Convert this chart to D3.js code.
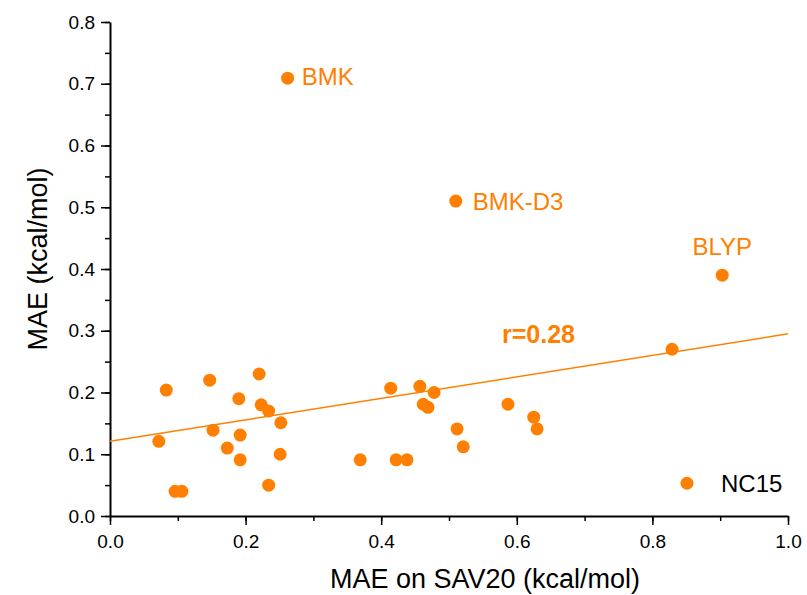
<!DOCTYPE html>
<html>
<head>
<meta charset="utf-8">
<script src="https://cdn.jsdelivr.net/npm/d3@7"></script>
<style>
  body { margin: 0; background: #fff; }
  text { font-family: "Liberation Sans", Arial, sans-serif; }
</style>
</head>
<body>
<div id="chart"></div>
<script>
// MAE on SAV20 (x) vs MAE (y), one point per method
var sav20 = [0.072, 0.083, 0.096, 0.106, 0.147, 0.152, 0.173, 0.190, 0.192, 0.192,
             0.220, 0.223, 0.234, 0.234, 0.252, 0.251, 0.262, 0.369, 0.414, 0.422,
             0.438, 0.457, 0.462, 0.469, 0.478, 0.510, 0.512, 0.521, 0.587, 0.625,
             0.630, 0.829, 0.851, 0.903];
var mae   = [0.121, 0.204, 0.040, 0.040, 0.220, 0.139, 0.110, 0.190, 0.131, 0.091,
             0.230, 0.180, 0.170, 0.050, 0.151, 0.100, 0.709, 0.091, 0.207, 0.091,
             0.091, 0.210, 0.181, 0.176, 0.200, 0.510, 0.141, 0.112, 0.181, 0.160,
             0.141, 0.270, 0.053, 0.390];
var names = ["", "", "", "", "", "", "", "", "", "",
             "", "", "", "", "", "", "BMK", "", "", "",
             "", "", "", "", "", "BMK-D3", "", "", "", "",
             "", "", "NC15", "BLYP"];

// linear fit as drawn in the figure
var fitX = [0, 1];
var fitY = [0.121, 0.295];
var rText = "r=0.28";

var xTicks = [0, 0.2, 0.4, 0.6, 0.8, 1.0];
var yTicks = [0, 0.1, 0.2, 0.3, 0.4, 0.5, 0.6, 0.7, 0.8];

var width = 807, height = 595;
var margin = {left: 110, top: 22, right: 19, bottom: 79};
var orange = "#ff8000";

var svg = d3.select("#chart").append("svg")
            .attr("width", width)
            .attr("height", height);

var x = d3.scaleLinear().domain([0, 1]).range([margin.left, width - margin.right]);
var y = d3.scaleLinear().domain([0, 0.8]).range([height - margin.bottom, margin.top]);

//Ejes con ticks menores
var minorX = d3.range(0, 1.001, 0.1);
var minorY = d3.range(0, 0.801, 0.05);

svg.append("g")
   .attr("transform", "translate(0," + y(0) + ")")
   .call(d3.axisBottom(x).tickValues(minorX).tickSize(5).tickFormat(""))
   .call(g => g.select(".domain").remove())
   .selectAll("line").attr("stroke-width", 1.5);

svg.append("g")
   .attr("transform", "translate(" + x(0) + ",0)")
   .call(d3.axisLeft(y).tickValues(minorY).tickSize(5).tickFormat(""))
   .call(g => g.select(".domain").remove())
   .selectAll("line").attr("stroke-width", 1.5);

var xAxis = svg.append("g")
   .attr("transform", "translate(0," + y(0) + ")")
   .call(d3.axisBottom(x).tickValues(xTicks).tickSize(9).tickSizeOuter(0).tickPadding(10)
           .tickFormat(d3.format(".1f")));

var yAxis = svg.append("g")
   .attr("transform", "translate(" + x(0) + ",0)")
   .call(d3.axisLeft(y).tickValues(yTicks).tickSize(9).tickSizeOuter(0).tickPadding(6)
           .tickFormat(d3.format(".1f")));

[xAxis, yAxis].forEach(function (g) {
  g.select(".domain").attr("stroke-width", 2);
  g.selectAll(".tick line").attr("stroke-width", 1.5);
  g.selectAll(".tick text")
   .style("font-family", "'Liberation Sans', Arial, sans-serif")
   .style("font-size", "19px")
   .attr("fill", "#000");
});

//Recta de ajuste
svg.append("line")
   .attr("x1", x(fitX[0])).attr("y1", y(fitY[0]))
   .attr("x2", x(fitX[1])).attr("y2", y(fitY[1]))
   .attr("stroke", orange)
   .attr("stroke-width", 1.5);

//Puntos
var pts = sav20.map(function (v, i) { return {x: v, y: mae[i], name: names[i]}; });

svg.append("g").selectAll("circle")
   .data(pts)
   .enter()
   .append("circle")
   .attr("cx", d => x(d.x))
   .attr("cy", d => y(d.y))
   .attr("r", 6.5)
   .attr("fill", orange);

//Etiquetas de los métodos
var labelPos = {
  "BMK":    {dx: 14, dy: 7, anchor: "start", color: orange},
  "BMK-D3": {dx: 17, dy: 9, anchor: "start", color: orange},
  "BLYP":   {dx: 0, dy: -20, anchor: "middle", color: orange},
  "NC15":   {dx: 34, dy: 9, anchor: "start", color: "#000"}
};

svg.append("g").selectAll("text")
   .data(pts.filter(d => d.name !== ""))
   .enter()
   .append("text")
   .attr("x", d => x(d.x) + labelPos[d.name].dx)
   .attr("y", d => y(d.y) + labelPos[d.name].dy)
   .attr("text-anchor", d => labelPos[d.name].anchor)
   .attr("fill", d => labelPos[d.name].color)
   .style("font-size", "24px")
   .text(d => d.name);

svg.append("text")
   .attr("x", 502)
   .attr("y", 343)
   .attr("fill", orange)
   .style("font-weight", "bold")
   .style("font-size", "25px")
   .text(rText);

//Títulos de los ejes
svg.append("text")
   .attr("x", 485)
   .attr("y", 588)
   .attr("text-anchor", "middle")
   .style("font-size", "27px")
   .text("MAE on SAV20 (kcal/mol)");

svg.append("text")
   .attr("transform", "translate(47,259) rotate(-90)")
   .attr("text-anchor", "middle")
   .style("font-size", "27px")
   .text("MAE (kcal/mol)");
</script>
</body>
</html>
